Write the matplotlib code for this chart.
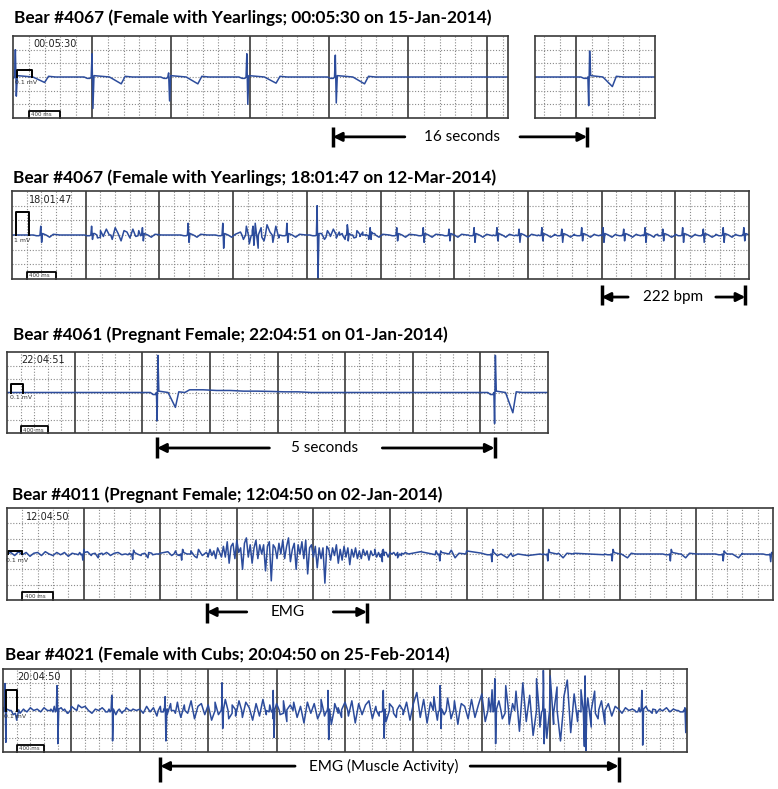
import numpy as np
import matplotlib.pyplot as plt

W, H = 778, 789
BLUE = '#2c4c9c'
FONT = 'Lato'

# ---------------- data (time in s, amplitude in grid divisions) ----------------
p1_title = "Bear #4067 (Female with Yearlings; 00:05:30 on 15-Jan-2014)"
p1_clock = "00:05:30"
p1_beat_t = [0.03, 1.00, 1.97, 2.96, 4.08]
p1_beat_up = [2.0, 1.7, 0.3, 1.7, 1.6]
p1_beat_dn = [-1.4, -2.3, -1.75, -2.0, -1.9]
p1_t_dip = [-0.4, -0.5, -0.5, -0.45, -0.5]
p1b_beat_t = [0.68]
p1b_beat_up = [1.9]
p1b_beat_dn = [-2.1]
p1b_t_dip = [-0.7]

p2_title = "Bear #4067 (Female with Yearlings; 18:01:47 on 12-Mar-2014)"
p2_clock = "18:01:47"
p2_beat_t = [0.39, 1.08, 1.77, 2.39, 2.86, 3.27, 3.73, 4.14, 4.55, 4.86, 5.22, 5.58, 5.93, 6.27,
             6.58, 6.88, 7.19, 7.46, 7.73, 8.02, 8.30, 8.59, 8.83, 9.10, 9.38, 9.65, 9.93]
p2_beat_up = [0.6, 0.6, 0.5, 0.8, 0.8, 0.6, 0.8, 2.0, 0.7, 0.5, 0.5, 0.5, 0.4, 0.5,
              0.5, 0.4, 0.5, 0.4, 0.5, 0.5, 0.4, 0.5, 0.4, 0.5, 0.4, 0.5, 0.5]
p2_beat_dn = [-0.5, -0.3, -0.4, -0.5, -0.9, -0.7, -0.5, -2.95, -0.4, -0.3, -0.4, -0.5, -0.4, -0.5,
              -0.4, -0.5, -0.4, -0.5, -0.4, -0.5, -0.4, -0.5, -0.4, -0.5, -0.5, -0.5, -0.4]
p2_noise_a = [0.1, -0.2, 0.3, -0.1, 0.4, 0.0, -0.3, 0.5, 0.1, -0.4, 0.3, 0.2, -0.2, 0.4, -0.1, 0.3, 0.1]
p2_noise_b = [0.2, -0.3, 0.6, -0.6, 0.3, 0.8, -0.9, 0.5, -0.4, 0.7, 0.2, -0.5, 0.6, -0.2]
p2_noise_c = [0.1, -0.3, 0.3, -0.1, 0.4, -0.2, 0.2, 0.1, -0.3, 0.3, 0.0, -0.2, 0.3, -0.1, 0.2,
              0.0, -0.3, 0.2, 0.1]

p3_title = "Bear #4061 (Pregnant Female; 22:04:51 on 01-Jan-2014)"
p3_clock = "22:04:51"
p3_beat_t = [2.22, 7.21]
p3_beat_up = [2.75, 2.75]
p3_beat_dn = [-2.1, -2.3]
p3_t_dip = [-1.1, -1.5]
p3_drift = [0.2, 0.2, 0.15, 0.15, 0.1, 0.1, 0.08, 0.05, 0.05, 0.0]

p4_title = "Bear #4011 (Pregnant Female; 12:04:50 on 02-Jan-2014)"
p4_clock = "12:04:50"
p4_beat_t = [0.99, 1.64, 2.28, 4.90, 5.65, 6.33, 7.06, 7.90, 8.66, 9.35, 9.97]
p4_beat_up = [0.3, 0.25, 0.3, 0.3, 0.2, 0.3, 0.3, 0.3, 0.3, 0.2, 0.1]
p4_beat_dn = [-0.4, -0.35, -0.4, -0.5, -0.45, -0.5, -0.45, -0.45, -0.45, -0.45, -0.5]
p4_base = [0.0, 0.1, -0.1, 0.15, -0.05, 0.1, -0.15, 0.05, 0.1, -0.1, 0.15, 0.0, -0.1, 0.1, -0.05,
           0.1, -0.15, 0.05, 0.0, 0.1, -0.1, 0.15, -0.1, 0.05, 0.0, -0.05, 0.1, -0.1, 0.05, 0.1,
           -0.05, 0.0, 0.05, 0.1, 0.0, -0.1, 0.05, 0.1, -0.05, 0.0, 0.05, 0.1, 0.15, -0.1, 0.2,
           -0.1, 0.25, 0.0, 0.2, -0.15, 0.3, -0.1]
p4_emg = [0.1, -0.2, 0.3, -0.1, 0.2, -0.3, 0.4, 0.1, -0.2, 0.5,
          -0.2, 0.8, -0.6, 0.5, 0.7, -0.3, 0.9, 0.1, 0.4, -1.0,
          0.7, 1.05, -0.2, 0.6, -0.6, 0.4, 0.9, -0.3, 0.6, 0.0,
          0.6, -1.1, 0.5, 0.8, -1.75, 0.6, 0.4, -0.3, 0.7, 0.0,
          0.9, -0.3, 0.5, 1.05, -0.5, 0.3, 0.7, -1.0, 0.6, 0.0,
          0.8, -0.3, 0.9, -1.3, 0.4, 0.6, -0.2, 0.5, -0.9, 0.4,
          -0.3, 0.4, -1.9, 0.5, 0.3, -0.4, 0.4, -0.1, 0.6, -0.6,
          0.3, -0.4, 0.5, -0.2, 0.4, -0.7, 0.3, -0.2, 0.4, -0.3,
          0.2, -0.3, 0.3, -0.1, 0.2, -0.4, 0.2, -0.1, 0.3, -0.2,
          0.1, -0.2, 0.2, -0.1, 0.1, -0.2, 0.1, 0.0, 0.1, -0.1,
          0.1, 0.0, -0.1, 0.0]
p4_tail = [0.1, 0.15, 0.2, 0.25, 0.2, 0.05, -0.1, -0.15, -0.1, 0.0, 0.05, 0.05,
           0.0, -0.05, 0.0, 0.0, 0.0, -0.05, 0.0, 0.0, 0.0, 0.0, 0.0, 0.0]

p5_title = "Bear #4021 (Female with Cubs; 20:04:50 on 25-Feb-2014)"
p5_clock = "20:04:50"
p5_beat_t = [0.03, 0.79, 1.59, 2.37, 3.20, 3.95, 4.75, 5.56, 6.39, 7.19, 7.90, 8.51, 9.34, 9.97]
p5_beat_up = [1.95, 1.8, 1.1, 1.0, 2.0, 1.45, 1.45, 1.45, 1.8, 2.3, 2.9, 2.5, 1.45, 0.2]
p5_beat_dn = [-2.3, -2.4, -2.2, -2.2, -1.3, -1.95, -2.1, -2.0, -1.3, -2.4, -2.4, -2.9, -2.5, -1.6]
p5_emg = [0.2, 0.1, 0.0, -0.3, -0.7, -0.2, 0.1, -0.1, 0.2, 0.0, 0.1, -0.1, 0.2, 0.0, 0.1, 0.3, -0.1, 0.2, 0.1, -0.2,
          0.3, 0.1, 0.4, 0.2, 0.3, 0.0, -0.2, 0.1, 0.0, 0.2, -0.1, 0.1, 0.0, -0.3, 0.1, -0.1, 0.2, 0.0, 0.1, 0.0,
          0.1, -0.2, 0.3, -0.1, 0.2, -0.4, 0.3, 0.1, -0.3, 0.5, 0.0, 0.6, -0.5, 0.4, -0.2, 0.7, -0.6, 0.3, 0.5, -0.3,
          0.4, -0.7, 0.6, -0.3, 0.5, 0.8, -0.6, 0.4, -0.4, 0.7, -0.5, 0.6, 0.2, -0.7, 0.5, -0.4, 0.8, -0.3, 0.4, -0.6,
          0.5, -0.3, 0.7, -0.8, 0.4, 0.6, -0.5, 0.3, -0.9, 0.6, -0.2, 0.5, -0.6, 0.8, -0.4, 0.3, -1.0, 0.5, 0.2, -0.5,
          0.6, -0.4, 0.7, -0.9, 0.5, -0.3, 0.4, 0.7, -0.6, 0.3, -0.4, 0.6, -0.8, 0.5, 0.2, -0.5, 0.4, -0.3, 0.6, -0.7,
          0.5, 1.3, -0.5, 0.8, -0.9, 0.6, 1.0, -0.7, 0.4, -0.3, 0.9, -0.6, 0.7, -1.0, 0.5, 0.3, -0.6, 0.8, -0.5, 0.4,
          1.2, -0.8, 0.9, 1.5, -1.2, 0.7, -0.6, 1.8, -1.0, 0.5, 1.4, -1.5, 2.0, -0.8, 1.1, -1.8, 2.3, -1.2, 1.6, -2.0,
          2.5, -1.0, 1.7, -2.2, 1.0, 2.2, -1.6, 1.2, -0.8, 1.5, -2.6, 0.9, -1.2, 1.4, -0.6, 0.7, -1.0, 0.5, -0.4, 0.3,
          0.1, -0.2, 0.2, 0.0, 0.1, -0.1, 0.2, -0.1, 0.3, 0.0, 0.1, -0.2, 0.1, 0.0, 0.2, -0.1, 0.1, 0.0, -0.1, 0.0]


def beat(t, up, dn, dip, t_off, pre=-0.1, down_first=False):
    qrs = [(t, dn), (t + 0.012, up)] if down_first else [(t, up), (t + 0.012, dn)]
    return ([(t - 0.1, 0.0), (t - 0.06, pre), (t - 0.025, pre), (t - 0.01, 0.0)] + qrs +
            [(t + 0.025, 0.1), (t + 0.6 * t_off, 0.0), (t + t_off, dip),
             (t + t_off + 0.05, 0.05), (t + t_off + 0.14, 0.0)])


def seg(t0, step, vals):
    return [(t0 + i * step, v) for i, v in enumerate(vals)]


def trace(pts, t_end):
    pts = sorted([(0.0, 0.0), (t_end, 0.0)] + pts)
    return np.array(pts).T


def px_axes(fig, l, t, r, b):
    return fig.add_axes([l / W, 1 - b / H, (r - l) / W, (b - t) / H])


def strip(ax, xmax, major0=0.0):
    minors = [m for m in np.arange(major0 % 0.2, xmax - 0.01, 0.2)
              if abs((m - major0) - round(m - major0)) > 0.05 and m > 0.01]
    majors = [m for m in np.arange(major0, xmax - 0.01, 1.0) if m > 0.01]
    ax.vlines(minors, -3, 3, colors='#8a8a8a', linestyles=(0, (1, 1.6)), lw=0.8)
    ax.hlines([-2, -1, 0, 1, 2], 0, xmax, colors='#8a8a8a', linestyles=(0, (1, 1.6)), lw=0.8)
    ax.vlines(majors, -3, 3, colors='#3a3a3a', lw=1.2)
    ax.set_xlim(0, xmax)
    ax.set_ylim(-3, 3)
    ax.set_xticks([])
    ax.set_yticks([])
    for s in ax.spines.values():
        s.set_color('#3a3a3a')
        s.set_linewidth(1.2)


def furniture(ax, clock, cal_t0, cal_t1, cal_h, cal_label):
    ax.text(0.53, 2.4, clock, ha='center', va='center', fontsize=7, family='DejaVu Sans', color='#222')
    ax.plot([cal_t0, cal_t0, cal_t1, cal_t1], [0, cal_h, cal_h, 0], color='black', lw=1.4)
    ax.text(cal_t0 - 0.02, -0.4, cal_label, ha='left', va='center', fontsize=4.5,
            family='DejaVu Sans', color='#333')
    ax.plot([0.2, 0.2, 0.6, 0.6], [-3, -2.5, -2.5, -3], color='black', lw=1.3, clip_on=False)
    ax.text(0.23, -2.78, '400 ms', ha='left', va='center', fontsize=4, family='DejaVu Sans', color='#333')


def arrow(ax, x_from, x_to, y):
    tr = ax.get_xaxis_transform()
    ax.annotate('', xy=(x_to, y), xytext=(x_from, y), xycoords=tr, textcoords=tr,
                arrowprops=dict(arrowstyle='-|>', color='black', lw=2, mutation_scale=13,
                                shrinkA=0, shrinkB=0), annotation_clip=False)


def bar(ax, x, y0, y1):
    ax.plot([x, x], [y0, y1], transform=ax.get_xaxis_transform(), color='black', lw=2.5,
            clip_on=False, solid_capstyle='butt')


def label(ax, x, y, s):
    ax.text(x, y, s, transform=ax.get_xaxis_transform(), ha='center', va='center',
            fontsize=11, family=FONT)


def title(fig, x_px, y_px, s, width_px):
    t = fig.text(x_px / W, 1 - y_px / H, s, fontsize=13, fontweight='bold', family=FONT,
                 ha='left', va='center')
    fig.canvas.draw()
    w = t.get_window_extent().width
    t.set_fontsize(13 * width_px / w)


fig = plt.figure(figsize=(W / 100, H / 100), dpi=100)

# ---- panel 1 ----
ax1 = px_axes(fig, 13, 36, 508, 118)
strip(ax1, 495 / 79)
pts = []
for t, u, d, dp in zip(p1_beat_t, p1_beat_up, p1_beat_dn, p1_t_dip):
    pts += beat(t, u, d, dp, 0.37)
x, y = trace(pts, 495 / 79)
ax1.plot(x, y, color=BLUE, lw=1.1)
furniture(ax1, p1_clock, 0.05, 0.24, 0.5, '0.1 mV')

ax1b = px_axes(fig, 535, 36, 655, 118)
strip(ax1b, 1.52, major0=0.52)
pts = []
for t, u, d, dp in zip(p1b_beat_t, p1b_beat_up, p1b_beat_dn, p1b_t_dip):
    pts += beat(t, u, d, dp, 0.3, down_first=True)
x, y = trace(pts, 1.52)
ax1b.plot(x, y, color=BLUE, lw=1.1)

bar(ax1, 4.05, -0.11, -0.35)
arrow(ax1, 4.96, 4.05, -0.23)
label(ax1, 5.68, -0.23, '16 seconds')
arrow(ax1b, -0.19, 0.66, -0.23)
bar(ax1b, 0.66, -0.11, -0.35)
title(fig, 14, 18, p1_title, 478)

# ---- panel 2 ----
ax2 = px_axes(fig, 12, 191, 749, 279)
strip(ax2, 10)
pts = []
for t, u, d in zip(p2_beat_t, p2_beat_up, p2_beat_dn):
    pts += beat(t, u, d, -0.15, 0.12, pre=-0.05)
pts += seg(1.12, 0.04, p2_noise_a) + seg(3.10, 0.04, p2_noise_b) + seg(4.20, 0.04, p2_noise_c)
x, y = trace(pts, 10)
ax2.plot(x, y, color=BLUE, lw=1.1)
furniture(ax2, p2_clock, 0.05, 0.23, 1.55, '1 mV')
bar(ax2, 8.0, -0.07, -0.30)
arrow(ax2, 8.36, 8.0, -0.205)
label(ax2, 8.97, -0.205, '222 bpm')
arrow(ax2, 9.55, 9.95, -0.205)
bar(ax2, 9.95, -0.07, -0.30)
title(fig, 13, 178, p2_title, 481)

# ---- panel 3 ----
ax3 = px_axes(fig, 7, 352, 548, 433)
strip(ax3, 8)
pts = []
for t, u, d, dp in zip(p3_beat_t, p3_beat_up, p3_beat_dn, p3_t_dip):
    pts += beat(t, u, d, dp, 0.27, pre=-0.15, down_first=True)
pts += seg(2.70, 0.2, p3_drift)
x, y = trace(pts, 8)
ax3.plot(x, y, color=BLUE, lw=1.1)
furniture(ax3, p3_clock, 0.06, 0.24, 0.65, '0.1 mV')
bar(ax3, 2.22, -0.05, -0.31)
arrow(ax3, 3.88, 2.22, -0.185)
label(ax3, 4.70, -0.185, '5 seconds')
arrow(ax3, 5.55, 7.21, -0.185)
bar(ax3, 7.21, -0.05, -0.31)
title(fig, 13, 335, p3_title, 434)

# ---- panel 4 ----
ax4 = px_axes(fig, 7, 508, 773, 600)
strip(ax4, 10)
pts = []
for t, u, d in zip(p4_beat_t, p4_beat_up, p4_beat_dn):
    pts += beat(t, u, d, -0.25, 0.2, pre=-0.05, down_first=True)
pts += seg(0.0, 0.05, p4_base) + seg(2.6, 0.025, p4_emg) + seg(5.2, 0.2, p4_tail)
x, y = trace(pts, 10)
ax4.plot(x, y, color=BLUE, lw=1.1)
furniture(ax4, p4_clock, 0.01, 0.20, 0.2, '0.1 mV')
bar(ax4, 2.61, -0.03, -0.25)
arrow(ax4, 3.13, 2.61, -0.13)
label(ax4, 3.67, -0.13, 'EMG')
arrow(ax4, 4.26, 4.70, -0.13)
bar(ax4, 4.70, -0.03, -0.25)
title(fig, 12, 495, p4_title, 431)

# ---- panel 5 ----
ax5 = px_axes(fig, 3, 669, 687, 752)
strip(ax5, 10)
pts = []
for t, u, d in zip(p5_beat_t, p5_beat_up, p5_beat_dn):
    pts += beat(t, u, d, -0.2, 0.15, pre=-0.1)
pts += seg(0.0, 0.05, p5_emg)
x, y = trace(pts, 10)
ax5.plot(x, y, color=BLUE, lw=1.1)
furniture(ax5, p5_clock, 0.04, 0.20, 1.5, '0.1 mV')
bar(ax5, 2.30, -0.06, -0.36)
arrow(ax5, 4.27, 2.30, -0.17)
label(ax5, 5.56, -0.17, 'EMG (Muscle Activity)')
arrow(ax5, 6.83, 9.0, -0.17)
bar(ax5, 9.0, -0.06, -0.36)
title(fig, 5, 655, p5_title, 444)

fig.savefig('out.png', dpi=100)
